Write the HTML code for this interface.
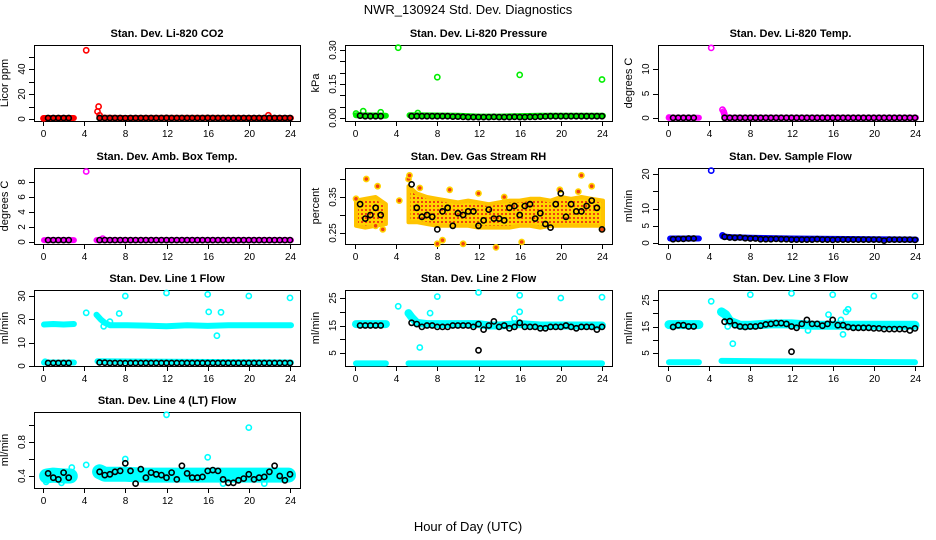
<!DOCTYPE html>
<html><head><meta charset="utf-8"><style>
html,body{margin:0;padding:0;background:#fff;}
svg{display:block;font-family:"Liberation Sans",Arial,sans-serif;}
</style></head><body>
<svg id="chart" width="936" height="540" viewBox="0 0 936 540" xmlns="http://www.w3.org/2000/svg">
<defs>
<pattern id="rhpat" width="4" height="4" patternUnits="userSpaceOnUse"><rect width="4" height="4" fill="#ffd400"/><rect x="1" y="1" width="2" height="2" fill="#f04010"/></pattern>
</defs>
<rect width="936" height="540" fill="#fff"/>
<text x="468" y="14" text-anchor="middle" font-size="13">NWR_130924 Std. Dev. Diagnostics</text>
<text x="468" y="531" text-anchor="middle" font-size="13">Hour of Day (UTC)</text>
</svg>
<script>
// shared sample hours for black (averaged) points
const H=[0.5,1,1.5,2,2.5,5.5,6,6.5,7,7.5,8,8.5,9,9.5,10,10.5,11,11.5,12,12.5,13,13.5,14,14.5,15,15.5,16,16.5,17,17.5,18,18.5,19,19.5,20,20.5,21,21.5,22,22.5,23,23.5,24];
const xTicks=[0,4,8,12,16,20,24];

// P1 CO2
const co2BandH=[0.1,3,null,5.5,8,12,16,20,24.1];
const co2BandV=[0.8,0.8,null,1,0.8,0.9,0.9,0.8,0.8];
const co2OutH=[0.05,4.2,5.3,5.4,5.5,21.9];
const co2OutV=[0.5,55,6,10,3,3];
const co2Black=[0.8,0.8,0.8,0.8,0.8,0.8,0.8,0.8,0.8,0.8,0.7,0.8,0.8,0.8,0.8,0.8,0.8,0.8,0.9,0.8,0.8,0.8,0.8,0.8,0.8,0.8,0.9,0.8,0.8,0.8,0.8,0.8,0.8,0.8,0.8,0.8,0.8,0.8,0.8,0.8,0.8,0.8,0.8];
// P2 Pressure
const presBandH=[0.1,3,null,5.3,10,12,14,18,24.1];
const presBandV=[0.012,0.01,null,0.012,0.01,0.006,0.006,0.01,0.01];
const presOutH=[0.1,0.8,2.5,4.2,6.1,8,16,24];
const presOutV=[0.02,0.03,0.025,0.31,0.022,0.18,0.19,0.17];
const presBlack=[0.01,0.008,0.008,0.008,0.008,0.008,0.008,0.008,0.008,0.008,0.008,0.008,0.008,0.006,0.006,0.005,0.004,0.004,0.004,0.004,0.004,0.005,0.004,0.004,0.004,0.005,0.004,0.004,0.005,0.005,0.006,0.007,0.008,0.008,0.008,0.008,0.008,0.008,0.008,0.008,0.008,0.008,0.008];
// P3 Li-820 Temp
const tempBandH=[0.1,3,null,5.6,24.1];
const tempBandV=[0.05,0.05,null,0.05,0.05];
const tempOutH=[0.1,4.2,5.3,5.4,5.45,5.5];
const tempOutV=[0.1,14.3,1.7,1.3,1.0,0.6];
const tempBlack=[0.05,0.05,0.05,0.05,0.05,0.05,0.05,0.05,0.05,0.05,0.05,0.05,0.05,0.05,0.05,0.05,0.05,0.05,0.05,0.05,0.05,0.05,0.05,0.05,0.05,0.05,0.05,0.05,0.05,0.05,0.05,0.05,0.05,0.05,0.05,0.05,0.05,0.05,0.05,0.05,0.05,0.05,0.05];
// P4 Amb Box Temp
const ambBandH=[0.1,3,null,5.2,24.1];
const ambBandV=[0.25,0.25,null,0.25,0.25];
const ambOutH=[4.2,5.8];
const ambOutV=[9.4,0.45];
const ambBlack=[0.25,0.25,0.25,0.25,0.25,0.25,0.25,0.25,0.25,0.25,0.25,0.25,0.25,0.25,0.25,0.25,0.25,0.25,0.25,0.25,0.25,0.25,0.25,0.25,0.25,0.25,0.25,0.25,0.25,0.25,0.25,0.25,0.25,0.25,0.25,0.25,0.25,0.25,0.25,0.25,0.25,0.25,0.25];
// P5 RH
const rhCloudH=[0.1,1,2,3,null,5.2,6,7,8,9,10,11,12,13,14,15,16,17,18,19,20,21,22,23,24.1];
const rhUpperV=[0.34,0.345,0.35,0.33,null,0.38,0.36,0.35,0.345,0.34,0.335,0.34,0.335,0.33,0.335,0.34,0.34,0.345,0.345,0.34,0.35,0.345,0.35,0.345,0.34];
const rhLowerV=[0.27,0.265,0.27,0.275,null,0.28,0.28,0.275,0.27,0.27,0.27,0.27,0.265,0.265,0.265,0.265,0.27,0.27,0.265,0.27,0.27,0.27,0.27,0.27,0.27];
const rhOutH=[0.1,1.1,2.0,2.2,2.7,4.3,5.2,5.3,6.3,8,8.5,9.2,10.5,12,13.7,14.5,16.2,19.9,21.7,22,23,24];
const rhOutV=[0.345,0.4,0.27,0.38,0.26,0.34,0.4,0.41,0.375,0.22,0.23,0.37,0.22,0.36,0.21,0.35,0.225,0.37,0.365,0.41,0.38,0.26];
const rhBlack=[0.33,0.29,0.30,0.32,0.30,0.385,0.32,0.295,0.30,0.295,0.26,0.31,0.32,0.27,0.305,0.30,0.31,0.31,0.27,0.285,0.315,0.29,0.29,0.285,0.32,0.325,0.30,0.325,0.33,0.29,0.305,0.275,0.265,0.33,0.36,0.295,0.33,0.31,0.31,0.325,0.34,0.32,0.26];
// P6 Sample flow
const flowBandH=[0.2,3,null,5.3,6,8,12,16,20,24.1];
const flowBandV=[1.3,1.3,null,1.9,1.7,1.5,1.3,1.2,1.1,1.0];
const flowOutH=[4.2,5.3];
const flowOutV=[21,2.2];
const flowBlack=[1.1,1.2,1.2,1.3,1.3,1.8,1.6,1.5,1.6,1.4,1.3,1.3,1.1,1.1,1.1,1.2,1.1,1.1,1.0,1.0,1.0,1.0,1.0,1.1,1.0,1.0,0.9,1.0,1.0,1.0,1.0,1.0,1.0,1.0,1.0,1.0,0.7,1.0,1.0,1.0,1.0,1.0,0.9];
// P7 Line 1
const l1UpH=[0.1,1,2,3,null,5.2,5.6,6,6.5,8,10,12,14,16,18,20,22,24.1];
const l1UpV=[17.8,18,17.8,18,null,22,20,18.5,17.5,17.5,17.3,17,17.5,17.2,17.5,17.5,17.5,17.5];
const l1LoH=[0.1,3,null,5.3,24.1];
const l1LoV=[1.5,1.5,null,2,1.5];
const l1OutH=[0.2,4.2,5.9,6.5,7.4,8,12,16,16.1,16.9,17.3,20,24];
const l1OutV=[1.8,22.8,17,19,22.5,30,31.3,30.7,23.2,13,23,30,29.2];
const l1Black=[1.3,1.3,1.3,1.3,1.3,1.5,1.4,1.3,1.3,1.3,1.2,1.3,1.3,1.3,1.3,1.3,1.3,1.3,1.3,1.3,1.3,1.3,1.3,1.3,1.3,1.3,1.3,1.3,1.3,1.3,1.3,1.3,1.3,1.3,1.3,1.3,1.3,1.3,1.3,1.3,1.3,1.3,1.3];
// P8 Line 2
const l2UpH=[0.1,1,2,3,null,5.2,5.5,6,7,8,10,12,13,14,16,18,20,22,24];
const l2UpV=[15.5,15.5,15.5,15.5,null,19.5,18,16,15.5,15.5,15.5,15.5,15,15,15.5,15,15,15,15];
const l2LoH=[0.1,3,null,5.2,24];
const l2LoV=[1.2,1.2,null,1.2,1.2];
const l2OutH=[4.2,6.3,7.3,8,12,15.5,16,16,20,24];
const l2OutV=[22,7,19.5,25.5,27,17.5,26,20,25,25.3];
const l2Black=[15,15,15,15,15,16,15.5,14.5,15,15,14.5,14.5,14.5,15,15,15,15,14.5,15.5,13.5,15,16.5,14.5,15,14,14.5,16,14.5,14.5,14.5,14,14,14.5,14.5,14.5,15,14.5,14,14.5,14.5,14.5,13.5,14.5];
const l2BlkOutH=[12];
const l2BlkOutV=[6];
// P9 Line 3
const l3UpH=[0.1,3,null,5.2,5.6,6,7,8,10,12,14,16,18,20,22,24];
const l3UpV=[15.7,15.7,null,20.5,19.5,17,15.5,15.5,16,16,15.5,15.5,15.5,15.5,15.5,15.5];
const l3LoH=[0.1,3,null,5.2,24];
const l3LoV=[1.5,1.5,null,2,1.5];
const l3OutH=[4.2,5.8,6.3,8,12,13.6,16,15.6,16.8,17,17.3,17.5,20,24];
const l3OutV=[24.5,15,8.5,27,27.5,13.5,27,19.5,17.5,12,20.5,21.5,26.5,26.5];
const l3Black=[14.8,15.5,15.5,15,15,16.8,17,15.5,15,14.8,15,15,15.3,15.8,16,16.3,16.3,16,15,14.5,16,17.5,16,16,15.3,16,17.5,15.5,15.5,14.8,14.5,14.5,14.5,14.5,14.3,14.3,14,14,14,14,14,13.5,14.3];
const l3BlkOutH=[12];
const l3BlkOutV=[5.5];
// P10 Line 4
const l4BandH=[0.35,1,2,2.65,null,5.5,6,8,10,12,14,16,18,20,22,23.85];
const l4BandV=[0.4,0.41,0.4,0.4,null,0.45,0.42,0.42,0.41,0.41,0.41,0.41,0.41,0.41,0.41,0.41];
const l4OutH=[0.1,0.3,1.8,2.8,4.2,8,12,16,20,21.5,17.5];
const l4OutV=[0.4,0.33,0.32,0.5,0.53,0.6,1.12,0.62,0.97,0.31,0.31];
const l4Black=[0.43,0.38,0.36,0.44,0.38,0.45,0.41,0.42,0.45,0.46,0.55,0.46,0.31,0.48,0.38,0.44,0.42,0.41,0.38,0.44,0.36,0.52,0.43,0.38,0.38,0.39,0.46,0.47,0.46,0.36,0.32,0.32,0.35,0.37,0.42,0.36,0.38,0.39,0.45,0.52,0.4,0.35,0.42];

const NS='http://www.w3.org/2000/svg';
const svg=document.getElementById('chart');
const cols=[{l:34,r:300,x0:43,x24:290},{l:345,r:612,x0:355,x24:602},{l:658,r:923,x0:668,x24:915}];
const rows=[{t:45,b:121},{t:168,b:244},{t:290,b:366},{t:412,b:488}];
function mk(tag,attrs,parent){const e=document.createElementNS(NS,tag);for(const k in attrs)e.setAttribute(k,attrs[k]);(parent||svg).appendChild(e);return e;}

const panels=[
 {c:0,r:0,title:'Stan. Dev. Li-820 CO2',ylab:'Licor ppm',cal:[0,119,40,69],ticks:[0,10,20,30,40,50],labels:['0','20','40'],lv:[0,20,40]},
 {c:1,r:0,title:'Stan. Dev. Li-820 Pressure',ylab:'kPa',cal:[0,118,0.3,50],ticks:[0,0.05,0.1,0.15,0.2,0.25,0.3],labels:['0.00','0.15','0.30'],lv:[0,0.15,0.3]},
 {c:2,r:0,title:'Stan. Dev. Li-820 Temp.',ylab:'degrees C',cal:[0,118,10,69],ticks:[0,5,10],labels:['0','5','10'],lv:[0,5,10]},
 {c:0,r:1,title:'Stan. Dev. Amb. Box Temp.',ylab:'degrees C',cal:[0,242,8,182],ticks:[0,2,4,6,8],labels:['0','2','4','6','8'],lv:[0,2,4,6,8]},
 {c:1,r:1,title:'Stan. Dev. Gas Stream RH',ylab:'percent',cal:[0.25,233,0.35,197],ticks:[0.25,0.3,0.35,0.4],labels:['0.25','0.35'],lv:[0.25,0.35]},
 {c:2,r:1,title:'Stan. Dev. Sample Flow',ylab:'ml/min',cal:[0,243,20,174],ticks:[0,5,10,15,20],labels:['0','5','10','20'],lv:[0,5,10,20]},
 {c:0,r:2,title:'Stan. Dev. Line 1 Flow',ylab:'ml/min',cal:[0,366,30,296],ticks:[0,10,20,30],labels:['0','10','20','30'],lv:[0,10,20,30]},
 {c:1,r:2,title:'Stan. Dev. Line 2 Flow',ylab:'ml/min',cal:[5,353,25,298],ticks:[5,10,15,20,25],labels:['5','15','25'],lv:[5,15,25]},
 {c:2,r:2,title:'Stan. Dev. Line 3 Flow',ylab:'ml/min',cal:[5,353,25,300],ticks:[5,10,15,20,25],labels:['5','15','25'],lv:[5,15,25]},
 {c:0,r:3,title:'Stan. Dev. Line 4 (LT) Flow',ylab:'ml/min',cal:[0.4,476,0.8,442],ticks:[0.4,0.6,0.8,1.0],labels:['0.4','0.8'],lv:[0.4,0.8]}
];

function axes(p){
 const C=cols[p.c],R=rows[p.r];
 const xs=h=>C.x0+(C.x24-C.x0)*h/24;
 const ys=v=>p.cal[1]+(v-p.cal[0])*(p.cal[3]-p.cal[1])/(p.cal[2]-p.cal[0]);
 return {C,R,xs,ys};
}
function drawFrame(p,i){
 const {C,R,xs,ys}=axes(p);
 const g=mk('g',{});
 
 
 const t=mk('text',{x:(C.l+C.r)/2,y:R.t-8,'text-anchor':'middle','font-size':'11','font-weight':'bold'},g);
 t.textContent=p.title;
 
 
 const yl=mk('text',{transform:`translate(${C.l-26},${(R.t+R.b)/2}) rotate(-90)`,'text-anchor':'middle','font-size':'11'},g);
 yl.textContent=p.ylab;
 
 
 const box=mk('rect',{x:C.l+0.5,y:R.t+0.5,width:C.r-C.l,height:R.b-R.t,fill:'none',stroke:'#000','stroke-width':1},g);
 
 
 xTicks.forEach(h=>{
  const x=Math.round(xs(h))+0.5;
  const tk=mk('line',{x1:x,x2:x,y1:R.b,y2:R.b+5,stroke:'#000'},g);
  
  
  const tl=mk('text',{x:x,y:R.b+16,'text-anchor':'middle','font-size':'10'},g);
  tl.textContent=String(h);
  
  
 });
 p.ticks.forEach(v=>{
  const y=Math.round(ys(v))+0.5;
  const tk=mk('line',{x1:C.l-5,x2:C.l,y1:y,y2:y,stroke:'#000'},g);
  
  
 });
 p.lv.forEach((v,k)=>{
  const y=ys(v);
  const tl=mk('text',{transform:`translate(${C.l-9},${y}) rotate(-90)`,'text-anchor':'middle','font-size':'10'},g);
  tl.textContent=p.labels[k];
  
  
 });
}
function band(i,hs,vs,color,w,name){
 const {xs,ys}=axes(panels[i]);
 let seg=[];const segs=[];
 hs.forEach((h,k)=>{if(h===null){if(seg.length)segs.push(seg);seg=[];}else seg.push(xs(h).toFixed(1)+','+ys(vs[k]).toFixed(1));});
 if(seg.length)segs.push(seg);
 segs.forEach(s=>{
  const pl=mk('polyline',{points:s.join(' '),fill:'none',stroke:color,'stroke-width':w,'stroke-linejoin':'round','stroke-linecap':'round'});
  
  
 });
}
function cloud(i,hs,up,lo,name){
 const {xs,ys}=axes(panels[i]);
 let a=[],b=[];const segs=[];
 hs.forEach((h,k)=>{if(h===null){segs.push([a,b]);a=[];b=[];}else{a.push(xs(h).toFixed(1)+','+ys(up[k]).toFixed(1));b.unshift(xs(h).toFixed(1)+','+ys(lo[k]).toFixed(1));}});
 segs.push([a,b]);
 segs.forEach(s=>{
  const pg=mk('polygon',{points:s[0].concat(s[1]).join(' '),fill:'url(#rhpat)',stroke:'#ffc400','stroke-width':4,'stroke-linejoin':'round'});
  
  
 });
}
function pts(i,hs,vs,color,name,fill){
 const {xs,ys}=axes(panels[i]);
 hs.forEach((h,k)=>{
  const c=mk('circle',{cx:xs(h).toFixed(1),cy:ys(vs[k]).toFixed(1),r:2.6,fill:fill||'none',stroke:color,'stroke-width':1.6});
  
  
 });
}

panels.forEach(drawFrame);
const RED='#ff0000',GRN='#00ee00',MAG='#ff00ff',BLU='#0000ff',CY='#00ffff',YEL='#ffd400';
band(0,co2BandH,co2BandV,RED,6,'co2-band');pts(0,co2OutH,co2OutV,RED,'co2-outlier');pts(0,H,co2Black,'#000','co2-mean-point');
band(1,presBandH,presBandV,GRN,6,'pressure-band');pts(1,presOutH,presOutV,GRN,'pressure-outlier');pts(1,H,presBlack,'#000','pressure-mean-point');
band(2,tempBandH,tempBandV,MAG,6,'temp-band');pts(2,tempOutH,tempOutV,MAG,'temp-outlier');pts(2,H,tempBlack,'#000','temp-mean-point');
band(3,ambBandH,ambBandV,MAG,6,'amb-band');pts(3,ambOutH,ambOutV,MAG,'amb-outlier');pts(3,H,ambBlack,'#000','amb-mean-point');
cloud(4,rhCloudH,rhUpperV,rhLowerV,'rh-cloud');pts(4,rhOutH,rhOutV,YEL,'rh-outlier','#f04010');pts(4,H,rhBlack,'#000','rh-mean-point');
band(5,flowBandH,flowBandV,BLU,6,'flow-band');pts(5,flowOutH,flowOutV,BLU,'flow-outlier');pts(5,H,flowBlack,'#000','flow-mean-point');
band(6,l1UpH,l1UpV,CY,6,'line1-upper-band');band(6,l1LoH,l1LoV,CY,6,'line1-lower-band');pts(6,l1OutH,l1OutV,CY,'line1-outlier');pts(6,H,l1Black,'#000','line1-mean-point');
band(7,l2UpH,l2UpV,CY,8,'line2-upper-band');band(7,l2LoH,l2LoV,CY,6,'line2-lower-band');pts(7,l2OutH,l2OutV,CY,'line2-outlier');pts(7,H,l2Black,'#000','line2-mean-point');pts(7,l2BlkOutH,l2BlkOutV,'#000','line2-mean-outlier');
band(8,l3UpH,l3UpV,CY,9,'line3-upper-band');band(8,l3LoH,l3LoV,CY,6,'line3-lower-band');pts(8,l3OutH,l3OutV,CY,'line3-outlier');pts(8,H,l3Black,'#000','line3-mean-point');pts(8,l3BlkOutH,l3BlkOutV,'#000','line3-mean-outlier');
band(9,l4BandH,l4BandV,CY,15,'line4-band');pts(9,l4OutH,l4OutV,CY,'line4-outlier');pts(9,H,l4Black,'#000','line4-mean-point');
</script>
</body></html>
